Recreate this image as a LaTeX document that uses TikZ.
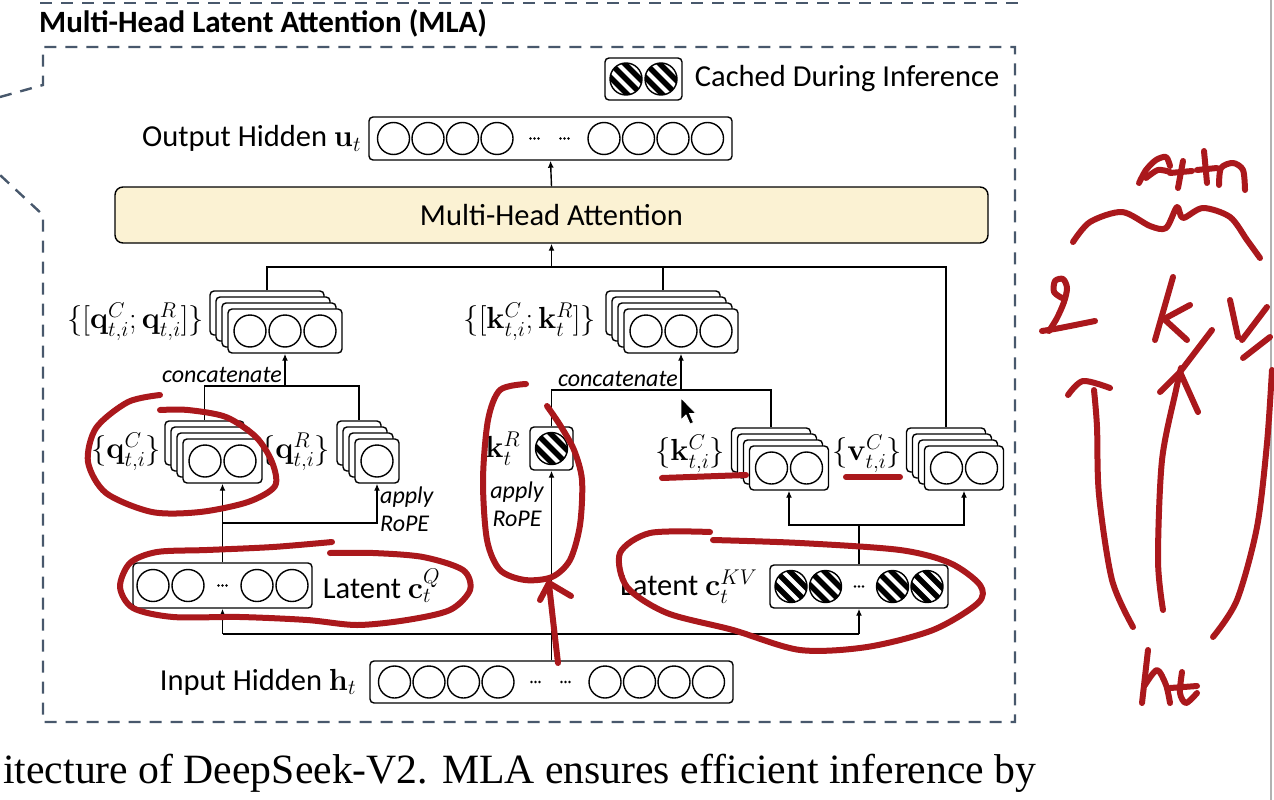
\RequirePackage{fix-cm}
\documentclass[tikz,border=0pt]{standalone}
\usepackage[no-math]{fontspec}
\setmainfont{Carlito}
\newfontfamily\capfont{Liberation Serif}
\usetikzlibrary{positioning,calc,arrows.meta}

\definecolor{framegray}{RGB}{72,88,108}
\definecolor{mhafill}{RGB}{251,242,211}
\definecolor{inkred}{RGB}{170,24,28}

% font sizes
\newcommand{\lblfont}{\fontsize{30.5}{36}\selectfont}
\newcommand{\notefont}{\fontsize{24}{28}\selectfont\itshape}

\tikzset{
  vbox/.style={draw, line width=1.4pt, rounded corners=4pt, fill=white, inner sep=0pt, minimum height=44pt},
  unit/.style={line width=1.4pt},
  wire/.style={line width=1.4pt},
  lbl/.style={font=\lblfont, inner sep=1pt},
  note/.style={font=\notefont, inner sep=3pt},
  frame/.style={draw=framegray, line width=2.4pt, dash pattern=on 12pt off 9pt},
  ink/.style={draw=inkred, line width=6pt, line cap=round, line join=round},
}

% row of plain cells: node, x offsets
\newcommand{\cells}[2]{\foreach \dx in {#2} \draw[unit] ($(#1)+(\dx,0)$) circle[radius=16pt];}
% striped cell (cached): node, x offset
\newcommand{\stripes}[2]{%
  \begin{scope}[shift={($(#1)+(#2,0)$)}]
    \clip (0,0) circle[radius=16pt];
    \foreach \d in {-14,0,14} \draw[line width=5.5pt] (\d-20,-20) -- (\d+20,20);
  \end{scope}
  \draw[unit] ($(#1)+(#2,0)$) circle[radius=16pt];}
% three small dots: node, x offset
\newcommand{\dotgap}[2]{\foreach \e in {-4,0,4} \fill ($(#1)+(#2+\e,0)$) circle[radius=1.3pt];}
% stack of heads: name, centre, width
\newcommand{\heads}[3]{%
  \foreach \k in {3,2,1} \node[vbox, minimum width=#3] (#1\k) at ($(#2)+(-6*\k,-6*\k)$) {};
  \node[vbox, minimum width=#3] (#1) at (#2) {};}

\begin{document}
\begin{tikzpicture}[x=1pt, y=-1pt, >={Latex[length=7pt,width=6pt]}]
\useasboundingbox (0,0) rectangle (1274,800);
\fill[white] (0,0) rectangle (1274,800);

% dashed frame of the block
\draw[frame] (40,3) -- (1020,3);
\draw[frame] (0,97) -- (43,85) -- (43,47) -- (1015,47) -- (1015,722) -- (43,722) -- (43,215) -- (0,175);
\node[lbl, font=\fontsize{31}{36}\selectfont\bfseries, anchor=west] (title) at (38,23) {Multi-Head Latent Attention (MLA)};
\draw[gray!60, line width=1.5pt] (1271,0) -- (1271,800);

% legend
\node[vbox, minimum width=77pt, minimum height=42pt] (cache) at (643.5,79) {};
\foreach \dx in {-17.5,17.5} \stripes{cache}{\dx};
\node[lbl, right=11pt of cache] (cachelbl) {Cached During Inference};

% output and attention
\node[vbox, minimum width=363pt, minimum height=43pt] (out) at (550.5,138.5) {};
\cells{out}{-157,-122.5,-88,-53.5,53.5,88,122.5,157}
\dotgap{out}{-16} \dotgap{out}{14}
\node[lbl, left=6pt of out] (outlbl) {Output Hidden $\mathbf{u}_t$};
\node[vbox, lbl, fill=mhafill, rounded corners=8pt, minimum width=873pt, minimum height=56pt] (mha) at (551.5,215) {Multi-Head Attention};

% concatenated heads
\heads{qcat}{285,331}{114pt}
\cells{qcat}{-35,0,35}
\node[lbl, anchor=east] (qcatlbl) at (205,322) {$\{[\mathbf{q}^C_{t,i};\mathbf{q}^R_{t,i}]\}$};
\heads{kcat}{681,331}{114pt}
\cells{kcat}{-35,0,35}
\node[lbl, anchor=east] (kcatlbl) at (597,322) {$\{[\mathbf{k}^C_{t,i};\mathbf{k}^R_{t}]\}$};

% per-head parts
\heads{qC}{222.5,461}{79pt}
\cells{qC}{-17.5,17.5}
\node[lbl, anchor=east] (qClbl) at (162,452) {$\{\mathbf{q}^C_{t,i}\}$};
\heads{qR}{377,461}{44pt}
\cells{qR}{0}
\node[lbl, anchor=east] (qRlbl) at (331,452) {$\{\mathbf{q}^R_{t,i}\}$};
\node[vbox, minimum width=43pt, minimum height=43pt] (kR) at (551.5,448.5) {};
\stripes{kR}{0}
\node[lbl, left=8pt of kR] (kRlbl) {$\mathbf{k}^R_t$};
\heads{kC}{789,468}{79pt}
\cells{kC}{-17.5,17.5}
\node[lbl, anchor=east] (kClbl) at (726,454) {$\{\mathbf{k}^C_{t,i}\}$};
\heads{vC}{964,468}{79pt}
\cells{vC}{-17.5,17.5}
\node[lbl, anchor=east] (vClbl) at (903,454) {$\{\mathbf{v}^C_{t,i}\}$};

% latent vectors
\node[vbox, minimum width=179pt, minimum height=45pt] (cq) at (222.5,585.5) {};
\cells{cq}{-69.5,-34.5,34.5,69.5}
\dotgap{cq}{0}
\node[lbl, right=9pt of cq] (cqlbl) {Latent $\mathbf{c}_t^Q$};
\node[vbox, minimum width=178pt, minimum height=43pt] (ckv) at (859,586.5) {};
\foreach \dx in {-68,-33.5,33.5,68} \stripes{ckv}{\dx};
\dotgap{ckv}{0}
\node[lbl, left=11pt of ckv] (ckvlbl) {Latent $\mathbf{c}_t^{KV}$};

% input
\node[vbox, minimum width=363pt, minimum height=42pt] (inp) at (551.5,682) {};
\cells{inp}{-157,-122.5,-88,-53.5,53.5,88,122.5,157}
\dotgap{inp}{-16} \dotgap{inp}{14}
\node[lbl, left=12pt of inp] (inplbl) {Input Hidden $\mathbf{h}_t$};

% wiring
\coordinate (top) at (551.5,267);
\coordinate (qj) at (285,386);
\coordinate (kj) at (681,390);
\coordinate (qr) at (222.5,523);
\coordinate (kv) at (859,525);
\coordinate (hl) at (222.5,634);
\coordinate (hr) at (859,634);
\draw[wire,->] (mha.north) -- (out.south);
\draw[wire] (qcat3.north) |- (top) -| (vC3.north);
\draw[wire] (kcat3.north) -- (kcat3.north |- top);
\draw[wire,->] (top) -- (mha.south);
\draw[wire] (qC3.north) |- (qj) -| (qR3.north);
\draw[wire,->] (qj) -- (qcat.south);
\node[note, above left] (qcon) at (qj) {concatenate};
\draw[wire] (kR.north) |- (kj) -| (kC3.north);
\draw[wire,->] (kj) -- (kcat.south);
\node[note, above left] (kcon) at (kj) {concatenate};
\draw[wire,->] (cq.north) -- (qC.south);
\draw[wire,->] (qr) -| (qR.south);
\node[note, below right, align=left] (qrope) at (qR.south) {apply\\RoPE};
\draw[wire] (ckv.north) -- (kv);
\draw[wire,->] (kv) -| (kC.south);
\draw[wire,->] (kv) -| (vC.south);
\draw[wire] (hl) -- (hr);
\draw[wire,->] (hl) -- (cq.south);
\draw[wire,->] (hr) -- (ckv.south);
\draw[wire,->] (inp.north) -- (kR.south);
\node[note, anchor=north, align=center] (krope) at (517,479) {apply\\RoPE};

% mouse pointer
\fill[black, draw=white, line width=0.8pt, shift={(681,398)}] (0,0) -- (0,22) -- (5,17) -- (9,26) -- (12.5,24.5) -- (8.5,15.5) -- (15,15.5) -- cycle;

% caption
\node[anchor=base west, font=\capfont\fontsize{41.7}{48}\selectfont, inner sep=0pt] (caption) at (3,783) {itecture of DeepSeek-V2. MLA ensures efficient inference by};

% handwritten notes
\draw[ink] plot[smooth] coordinates {(160,395) (128,402) (96,428) (88,462) (106,493) (152,512) (200,512) (248,502) (275,486) (272,462) (256,437) (226,417) (188,410) (160,410)};
\draw[ink] plot[smooth] coordinates {(526,384) (500,390) (488,420) (483,480) (487,540) (500,570) (525,580) (552,577) (570,560) (580,525) (582,480) (574,450) (560,425) (547,406)};
\draw[ink] plot[smooth] coordinates {(558,663) (553,620) (549,584)};
\draw[ink] (540,600) -- (549,583) -- (571,596);
\draw[ink] plot[smooth] coordinates {(332,542) (273,547) (207,550) (157,552) (130,563) (120,587) (133,608) (173,617) (240,617) (307,620) (357,625) (407,620) (450,610) (470,590) (463,570) (423,557) (373,553) (330,553)};
\draw[ink] plot[smooth] coordinates {(710,532) (650,533) (620,553) (627,587) (667,613) (733,630) (800,650) (867,647) (933,630) (978,603) (980,585) (950,563) (900,550) (800,543) (713,540)};
\draw[ink] (662,478) -- (746,475);
\draw[ink] (846,477) -- (900,477);
% Attn
\draw[ink] plot[smooth] coordinates {(1139,183) (1146,170) (1156,160) (1166,157) (1170,166)};
\draw[ink] plot[smooth] coordinates {(1146,178) (1158,170) (1170,172)};
\draw[ink] (1183,161) -- (1178,188);
\draw[ink] (1170,173) -- (1192,171);
\draw[ink] (1204,151) -- (1207,183);
\draw[ink] (1197,170) -- (1217,168);
\draw[ink] plot[smooth] coordinates {(1219,185) (1221,168) (1233,163) (1243,170) (1245,190)};
\draw[ink] plot[smooth] coordinates {(1073,242) (1090,222) (1122,212) (1150,226) (1166,228) (1177,207) (1183,218) (1203,208) (1230,217) (1247,240) (1260,258)};
% q k v
\draw[ink] plot[smooth] coordinates {(1062,298) (1054,292) (1055,281) (1063,279) (1067,288) (1064,302) (1057,318) (1049,331)};
\draw[ink] plot[smooth] coordinates {(1042,331) (1060,328) (1095,321)};
\draw[ink] (1173,277) -- (1155,340);
\draw[ink] (1190,305) -- (1164,319) -- (1187,340);
\draw[ink] (1212,330) -- (1180,372) -- (1198,412);
\draw[ink] (1160,392) -- (1180,372);
\draw[ink] (1230,300) -- (1238,337);
\draw[ink] (1267,307) -- (1242,340);
\draw[ink] (1243,358) -- (1270,337);
% arrows from h_t
\draw[ink] plot[smooth] coordinates {(1133,627) (1112,580) (1099,495) (1097,427) (1094,390)};
\draw[ink] plot[smooth] coordinates {(1068,395) (1083,381) (1110,388)};
\draw[ink] plot[smooth] coordinates {(1163,610) (1158,560) (1162,460) (1176,390) (1181,368)};
\draw[ink] plot[smooth] coordinates {(1213,637) (1237,600) (1257,527) (1267,443) (1272,370)};
% h t
\draw[ink] (1148,650) -- (1142,703);
\draw[ink] plot[smooth] coordinates {(1145,685) (1157,670) (1166,685) (1170,703)};
\draw[ink] plot[smooth] coordinates {(1182,672) (1180,693) (1186,703) (1197,693)};
\draw[ink] (1170,688) -- (1197,686);
\end{tikzpicture}
\end{document}
